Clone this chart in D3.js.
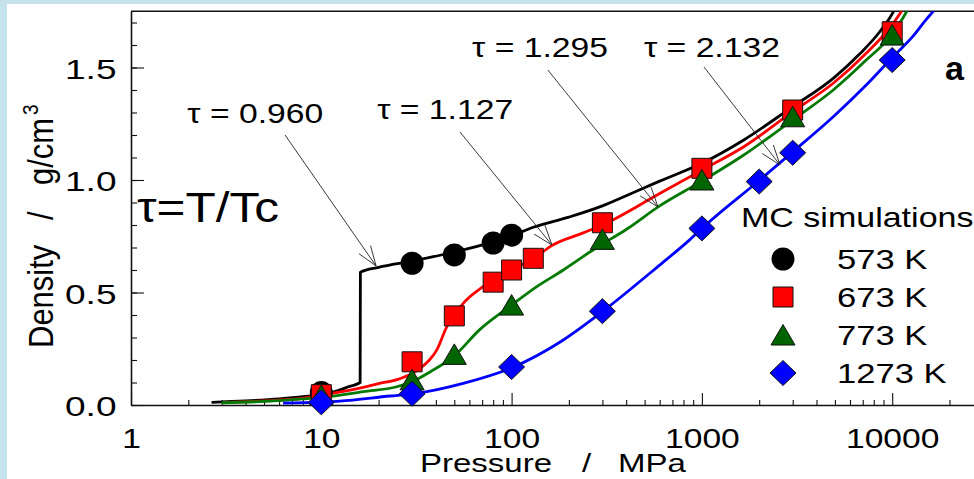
<!DOCTYPE html>
<html>
<head>
<meta charset="utf-8">
<script src="https://cdn.jsdelivr.net/npm/d3@7"></script>
<style>
  html, body { margin: 0; padding: 0; background: #fff; }
  svg { display: block; }
  text { font-family: "Liberation Sans", Arial, Helvetica, sans-serif; fill: #000; }
</style>
</head>
<body>
<svg id="chart" width="974" height="479"></svg>
<script>
// ---------------- data ----------------
const tempLabels = ["573 K", "673 K", "773 K", "1273 K"];
const tauLabels = ["τ = 0.960", "τ = 1.127", "τ = 1.295", "τ = 2.132"];

const xMajorTicks = [1, 10, 100, 1000, 10000];
const yMajorTicks = [0, 0.5, 1.0, 1.5];

// Monte Carlo simulation points: pressure (MPa) and density (g/cm3)
const mcP573 = [10, 30, 50, 80, 100];
const mcD573 = [0.056, 0.63, 0.667, 0.72, 0.755];
const mcP673 = [10, 30, 50, 80, 100, 130, 300, 1000, 3000, 10000];
const mcD673 = [0.046, 0.192, 0.396, 0.546, 0.6, 0.652, 0.81, 1.052, 1.311, 1.659];
const mcP773 = [10, 30, 50, 100, 300, 1000, 3000, 10000];
const mcD773 = [0.042, 0.112, 0.225, 0.444, 0.736, 1.0, 1.281, 1.644];
const mcP1273 = [10, 30, 100, 300, 1000, 2000, 3000, 10000];
const mcD1273 = [0.012, 0.05, 0.169, 0.417, 0.785, 0.993, 1.121, 1.533];

// Equation-of-state curves
const eosP573 = [2.65, 4, 6, 8, 10, 12, 14, 16, 16.05, 20, 30, 50, 80, 100, 130, 200, 300, 400, 600, 1000, 1660, 3000, 4900, 6800, 8600, 10100, 10600];
const eosD573 = [0.012, 0.018, 0.027, 0.037, 0.046, 0.062, 0.082, 0.1, 0.59, 0.612, 0.64, 0.68, 0.725, 0.752, 0.79, 0.835, 0.885, 0.93, 0.995, 1.074, 1.178, 1.326, 1.452, 1.563, 1.659, 1.745, 1.78];
const eosP673 = [3.1, 5, 8, 11, 16.6, 20, 25, 30, 33, 37, 40.4, 45.7, 50, 55.7, 70.8, 100, 135, 160, 238, 300, 600, 1000, 1660, 3000, 4900, 7300, 9800, 11000, 11600];
const eosD673 = [0.012, 0.018, 0.03, 0.049, 0.078, 0.095, 0.113, 0.14, 0.163, 0.2, 0.244, 0.348, 0.4, 0.452, 0.526, 0.6, 0.659, 0.705, 0.765, 0.8, 0.94, 1.044, 1.148, 1.304, 1.43, 1.563, 1.681, 1.74, 1.77];
const eosP773 = [3, 5, 8, 11, 16.6, 24.9, 30, 37.4, 49.5, 68, 100, 135, 187, 280, 400, 600, 1000, 1660, 3000, 4900, 7300, 10100, 11900, 12500];
const eosD773 = [0.01, 0.016, 0.027, 0.037, 0.059, 0.081, 0.104, 0.148, 0.215, 0.335, 0.444, 0.525, 0.6, 0.7, 0.78, 0.885, 0.995, 1.111, 1.267, 1.4, 1.533, 1.652, 1.748, 1.78];
const eosP1273 = [6.3, 10, 12.5, 23, 30, 55.7, 100, 187, 300, 600, 865, 1000, 2000, 3000, 4900, 7300, 10100, 12800, 15000, 16800, 17500];
const eosD1273 = [0.008, 0.013, 0.017, 0.04, 0.049, 0.096, 0.165, 0.289, 0.415, 0.622, 0.735, 0.785, 0.998, 1.125, 1.281, 1.422, 1.548, 1.637, 1.711, 1.76, 1.78];

// Reduced-temperature annotations (label corner, leader start, arrow tip) in data units
const tauLabelP = [2.0, 19.9, 62.7, 502];
const tauLabelD = [1.253, 1.271, 1.547, 1.547];
const tauFromP = [6.45, 53.6, 155, 1026];
const tauFromD = [1.2, 1.213, 1.489, 1.502];
const tauTipP = [19.4, 163, 588, 2572];
const tauTipD = [0.618, 0.711, 0.88, 1.067];

// ---------------- layout ----------------
const W = 974, H = 479;
const svg = d3.select("#chart");

svg.append("rect").attr("width", W).attr("height", H).attr("fill", "#c6e3eb");
svg.append("rect").attr("x", 7).attr("y", 4).attr("width", W - 7).attr("height", H - 4).attr("fill", "#fff");

const decade = 190.3;
const x = d3.scaleLog().domain([1, 30000]).range([131, 131 + decade * Math.log10(30000)]);
const y = d3.scaleLinear().domain([0, 1.75]).range([405, 405 - 225 * 1.75]);

const series = [
  { shape: "circle",   line: "#000000", fill: "#000000", mcP: mcP573,  mcD: mcD573,  eosP: eosP573,  eosD: eosD573 },
  { shape: "square",   line: "#ff0000", fill: "#ff0000", mcP: mcP673,  mcD: mcD673,  eosP: eosP673,  eosD: eosD673 },
  { shape: "triangle", line: "#037a03", fill: "#006400", mcP: mcP773,  mcD: mcD773,  eosP: eosP773,  eosD: eosD773 },
  { shape: "diamond",  line: "#0000ff", fill: "#0000ff", mcP: mcP1273, mcD: mcD1273, eosP: eosP1273, eosD: eosD1273 }
];

// ---------------- axes ----------------
const xMinorTicks = [];
for (let e = 0; e <= 4; e++) for (let m = 2; m <= 9; m++) { const v = m * Math.pow(10, e); if (v <= 30000) xMinorTicks.push(v); }
const yMinorTicks = d3.range(0, 18).map(i => +(i * 0.1).toFixed(1));

const axisColor = "#111";

const gxMinor = svg.append("g").attr("transform", `translate(0,${y(0)})`)
  .call(d3.axisBottom(x).tickValues(xMinorTicks).tickSizeInner(-5).tickSizeOuter(0).tickFormat(() => ""));
gxMinor.select(".domain").remove();

const gx = svg.append("g").attr("transform", `translate(0,${y(0)})`)
  .call(d3.axisBottom(x).tickValues(xMajorTicks).tickSizeInner(-12).tickSizeOuter(0).tickPadding(23).tickFormat(d3.format("d")));

const gyMinor = svg.append("g").attr("transform", `translate(${x(1)},0)`)
  .call(d3.axisLeft(y).tickValues(yMinorTicks).tickSizeInner(-6).tickSizeOuter(0).tickFormat(() => ""));
gyMinor.select(".domain").remove();

const yLabelScale = 1.3;
const gy = svg.append("g").attr("transform", `translate(${x(1)},0)`)
  .call(d3.axisLeft(y).tickValues(yMajorTicks).tickSizeInner(-13).tickSizeOuter(0).tickPadding(14.5 / yLabelScale).tickFormat(d3.format(".1f")));

[gxMinor, gx, gyMinor, gy].forEach(g => {
  g.selectAll("line").attr("stroke", axisColor).attr("stroke-width", 1.1);
  g.selectAll(".domain").attr("stroke", axisColor).attr("stroke-width", 1.6);
});
gx.selectAll("text").attr("font-size", 28).attr("font-family", null).attr("fill", "#000")
  .attr("transform", "scale(1.2,1)");
gy.selectAll("text").attr("font-size", 28.5).attr("font-family", null).attr("fill", "#000")
  .attr("dy", "0.37em").attr("transform", `scale(${yLabelScale},1)`);

// top border of the frame
svg.append("line")
  .attr("x1", x(1)).attr("x2", x(30000))
  .attr("y1", y(1.75)).attr("y2", y(1.75))
  .attr("stroke", axisColor).attr("stroke-width", 1.6);

// axis titles
const xTitle = svg.append("text").attr("font-size", 26)
  .attr("transform", "translate(420,472) scale(1.27,1)");
xTitle.append("tspan").attr("x", 0).text("Pressure");
xTitle.append("tspan").attr("x", (582 - 420) / 1.27).text("/");
xTitle.append("tspan").attr("x", (618 - 420) / 1.27).text("MPa");

const yTitle = svg.append("text").attr("font-size", 31)
  .attr("transform", "translate(53,348) rotate(-90) scale(1,1.13)");
yTitle.append("tspan").attr("x", 0).text("Density");
yTitle.append("tspan").attr("x", 128).text("/");
yTitle.append("tspan").attr("x", 163).text("g/cm");
yTitle.append("tspan").attr("x", 233).attr("dy", -13).attr("font-size", 19).text("3");

// ---------------- curves ----------------
svg.append("clipPath").attr("id", "plot-clip")
  .append("rect").attr("x", x(1)).attr("y", y(1.75)).attr("width", x(30000) - x(1)).attr("height", y(0) - y(1.75));

const line = d3.line().x(d => x(d[0])).y(d => y(d[1])).curve(d3.curveMonotoneX);

const curves = svg.append("g").attr("clip-path", "url(#plot-clip)");
series.forEach(s => {
  curves.append("path")
    .datum(d3.zip(s.eosP, s.eosD))
    .attr("d", line)
    .attr("fill", "none")
    .attr("stroke", s.line)
    .attr("stroke-width", 2.8)
    .attr("stroke-linejoin", "round");
});

// ---------------- annotations ----------------
const ann = svg.append("g");
tauLabels.forEach((t, i) => {
  const tx = x(tauTipP[i]), ty = y(tauTipD[i]);
  const fx = x(tauFromP[i]), fy = y(tauFromD[i]);
  ann.append("line").attr("x1", fx).attr("y1", fy).attr("x2", tx).attr("y2", ty)
    .attr("stroke", "#222").attr("stroke-width", 0.9);
  const ang = Math.atan2(fy - ty, fx - tx);
  [-0.34, 0.34].forEach(da => {
    ann.append("line")
      .attr("x1", tx).attr("y1", ty)
      .attr("x2", tx + 21 * Math.cos(ang + da)).attr("y2", ty + 21 * Math.sin(ang + da))
      .attr("stroke", "#222").attr("stroke-width", 0.9);
  });
  ann.append("text")
    .attr("x", x(tauLabelP[i]) - 1).attr("y", y(tauLabelD[i]))
    .attr("font-size", 27)
    .attr("textLength", 136).attr("lengthAdjust", "spacingAndGlyphs")
    .text(t);
});

svg.append("text").attr("x", 137).attr("y", 222).attr("font-size", 42)
  .attr("textLength", 142).attr("lengthAdjust", "spacingAndGlyphs")
  .text("τ=T/Tc");

svg.append("text").attr("x", 945).attr("y", 80).attr("font-size", 34).attr("font-weight", "bold").text("a");

// ---------------- markers ----------------
function markerPath(shape, cx, cy) {
  if (shape === "square") return `M${cx - 10},${cy - 10}h20v20h-20Z`;
  if (shape === "triangle") return `M${cx},${cy - 10.5}L${cx + 12},${cy + 10}L${cx - 12},${cy + 10}Z`;
  if (shape === "diamond") return `M${cx},${cy - 12.5}L${cx + 13},${cy}L${cx},${cy + 12.5}L${cx - 13},${cy}Z`;
  const r = 11.5;
  return `M${cx - r},${cy}a${r},${r} 0 1,0 ${2 * r},0a${r},${r} 0 1,0 ${-2 * r},0Z`;
}

const markers = svg.append("g");
series.forEach(s => {
  markers.append("g").selectAll("path")
    .data(d3.zip(s.mcP, s.mcD))
    .join("path")
    .attr("d", d => markerPath(s.shape, x(d[0]), y(d[1])))
    .attr("fill", s.fill)
    .attr("stroke", s.shape === "circle" ? "none" : "#111")
    .attr("stroke-width", 1);
});

// ---------------- legend ----------------
const legend = svg.append("g");
legend.append("text").attr("font-size", 27)
  .attr("transform", "translate(741,227) scale(1.26,1)")
  .text("MC simulations");
tempLabels.forEach((lab, i) => {
  const cy = 259 + i * 38;
  legend.append("path")
    .attr("d", markerPath(series[i].shape, 783, cy))
    .attr("fill", series[i].fill)
    .attr("stroke", series[i].shape === "circle" ? "none" : "#111")
    .attr("stroke-width", 1);
  legend.append("text").attr("font-size", 27)
    .attr("transform", `translate(837,${cy + 9.5}) scale(1.28,1)`)
    .text(lab);
});
</script>
</body>
</html>
